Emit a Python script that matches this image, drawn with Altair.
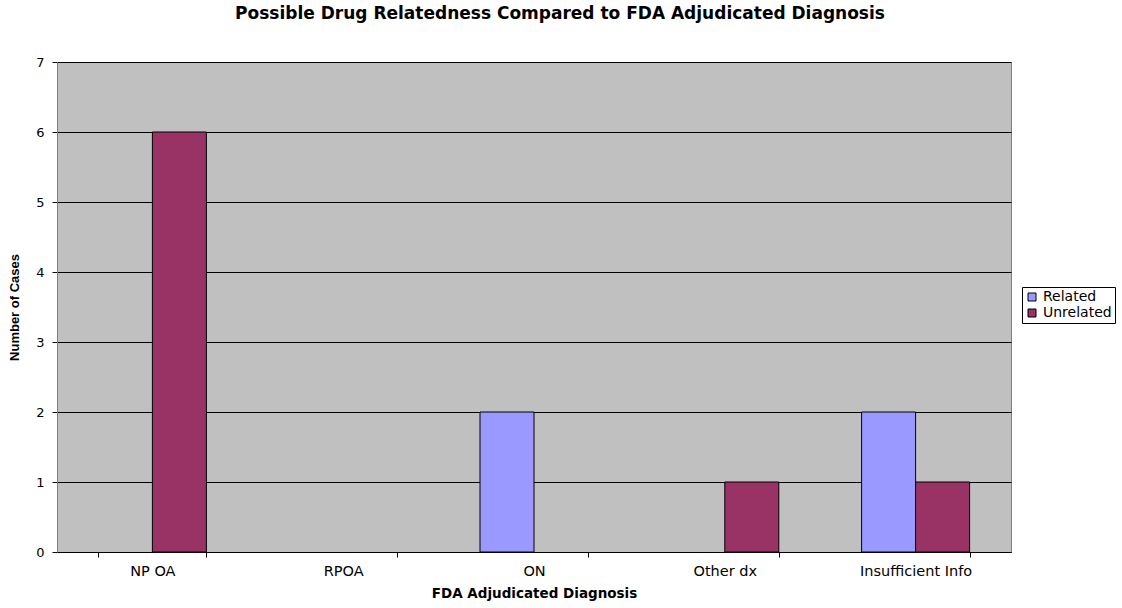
import altair as alt
import pandas as pd

categories = ["NP OA", "RPOA", "ON", "Other dx", "Insufficient Info"]
related = [0, 0, 2, 0, 2]
unrelated = [6, 0, 0, 1, 1]
series = ["Related", "Unrelated"]
colors = ["#9999FF", "#993366"]

rows = []
for c, r, u in zip(categories, related, unrelated):
    rows.append({"cat": c, "series": "Related", "value": r})
    rows.append({"cat": c, "series": "Unrelated", "value": u})
df = pd.DataFrame(rows)

FONT = "DejaVu Sans"
NARROW = "Liberation Sans"

chart = alt.Chart(df).transform_filter(alt.datum.value > 0).mark_bar(
    stroke="black", strokeWidth=1
).encode(
    x=alt.X("cat:N", sort=categories,
            scale=alt.Scale(domain=categories, paddingInner=0.434, paddingOuter=0.217),
            axis=alt.Axis(title="FDA Adjudicated Diagnosis", labelAngle=0,
                          tickBand="extent", labelFontSize=14.5, titleFontSize=13.5,
                          titleFontWeight="bold", labelColor="black", titleColor="black",
                          domainColor="black", tickColor="black", tickSize=5,
                          labelPadding=7, titlePadding=9, labelFont=FONT, titleFont=FONT)),
    xOffset=alt.XOffset("series:N", sort=series, scale=alt.Scale(domain=series)),
    y=alt.Y("value:Q", scale=alt.Scale(domain=[0, 7]),
            axis=alt.Axis(title="Number of Cases", values=list(range(8)), grid=True,
                          gridColor="black", gridOpacity=1, labelFontSize=13,
                          titleFontSize=13, titleFontWeight="bold", labelColor="black",
                          titleColor="black", domainColor="#808080", tickColor="black",
                          tickSize=5, labelPadding=8, titlePadding=14,
                          labelFont=FONT, titleFont=NARROW)),
    color=alt.Color("series:N", sort=series,
                    scale=alt.Scale(domain=series, range=colors),
                    legend=alt.Legend(title=None, orient="none", legendX=965, legendY=225,
                                      symbolType="square", symbolStrokeColor="black",
                                      symbolStrokeWidth=1, symbolSize=64, labelFontSize=14,
                                      labelFont=FONT, labelColor="black", labelOffset=4,
                                      strokeColor="black", padding=3, rowPadding=2,
                                      symbolOpacity=1, labelLimit=200)),
).properties(
    width=954, height=490,
    title=alt.TitleParams("Possible Drug Relatedness Compared to FDA Adjudicated Diagnosis",
                          fontSize=17, font=FONT, fontWeight="bold", color="black",
                          anchor="middle", dx=26, offset=33),
    autosize=alt.AutoSizeParams(type="none"),
    padding={"left": 57, "top": 62, "right": 111, "bottom": 56},
    background="white",
).configure_view(
    fill="#C0C0C0", stroke="#808080", strokeWidth=1
)

chart.save("out.html", embed_options={"renderer": "svg", "actions": False})
